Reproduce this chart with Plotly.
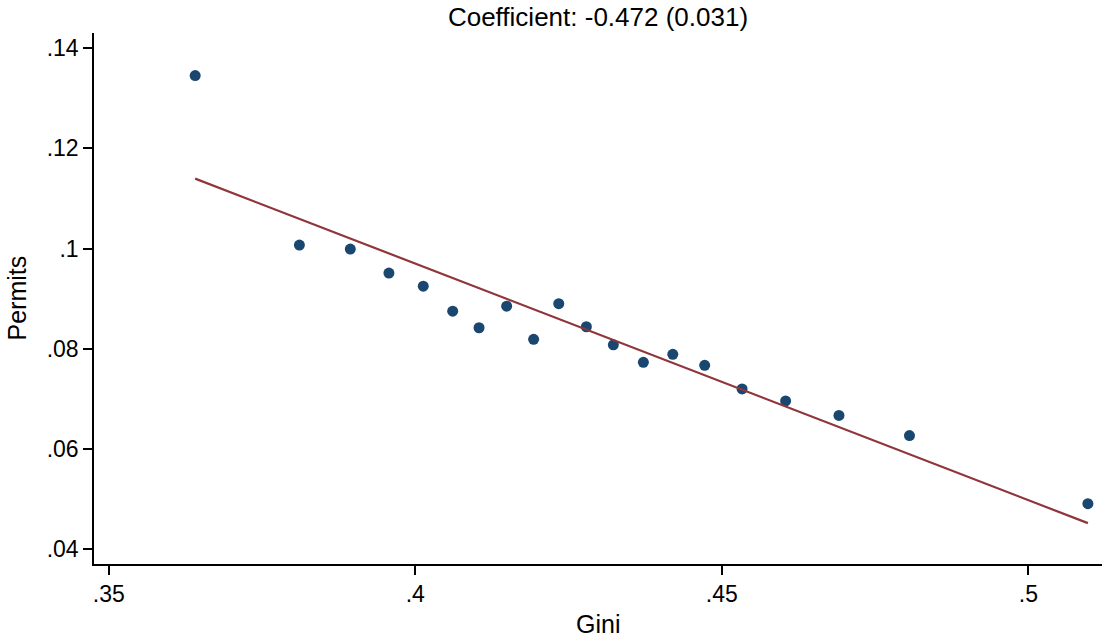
import plotly.graph_objects as go
import numpy as np

# Binned scatter data (Gini vs Permits)
gini = [0.3641, 0.3811, 0.3894, 0.3957, 0.4013, 0.4061, 0.4104, 0.4149, 0.4193, 0.4234,
        0.4279, 0.4323, 0.4372, 0.4420, 0.4472, 0.4533, 0.4604, 0.4691, 0.4806, 0.5097]
permits = [0.1345, 0.1007, 0.0999, 0.0951, 0.0925, 0.0875, 0.0842, 0.0885, 0.0819, 0.0890,
           0.0844, 0.0808, 0.0773, 0.0789, 0.0767, 0.0720, 0.0696, 0.0667, 0.0627, 0.0491]

# Fitted line parameters
slope = -0.472
intercept = 0.2858
std_err = 0.031

x_ticks = [0.35, 0.4, 0.45, 0.5]
x_tick_labels = [".35", ".4", ".45", ".5"]
y_ticks = [0.04, 0.06, 0.08, 0.1, 0.12, 0.14]
y_tick_labels = [".04", ".06", ".08", ".1", ".12", ".14"]

x_line = np.array([min(gini), max(gini)])
y_line = intercept + slope * x_line

FONT = "Liberation Sans, Arial, sans-serif"

fig = go.Figure()
fig.add_trace(go.Scatter(x=gini, y=permits, mode="markers",
                         marker=dict(size=11, color="#1a476f"), showlegend=False))
fig.add_trace(go.Scatter(x=x_line, y=y_line, mode="lines",
                         line=dict(color="#90353b", width=2.2), showlegend=False))

fig.update_layout(
    width=1102, height=638,
    margin=dict(l=94, r=0, t=33, b=74),
    paper_bgcolor="white", plot_bgcolor="white",
    font=dict(family=FONT, size=23, color="black"),
    title=dict(text=f"Coefficient: {slope:.3f} ({std_err:.3f})",
               x=0.5, xref="paper", xanchor="center",
               y=1 - 17 / 638, yref="container", yanchor="middle",
               font=dict(family=FONT, size=26, color="black")),
)
fig.update_xaxes(range=[0.3476, 0.512], tickvals=x_ticks, ticktext=x_tick_labels,
                 showgrid=False, zeroline=False, showline=True, linecolor="black",
                 linewidth=1.5, ticks="outside", ticklen=9, tickwidth=1.5,
                 tickcolor="black", tickfont=dict(size=23))
fig.update_yaxes(range=[0.03707, 0.143], tickvals=y_ticks, ticktext=y_tick_labels,
                 showgrid=False, zeroline=False, showline=True, linecolor="black",
                 linewidth=1.5, ticks="outside", ticklen=9, tickwidth=1.5,
                 tickcolor="black", tickfont=dict(size=23))

fig.add_annotation(text="Permits", xref="paper", yref="paper", x=(16 - 94) / 1008,
                   y=0.5, textangle=-90, showarrow=False, xanchor="center", yanchor="middle",
                   font=dict(family=FONT, size=25, color="black"))
fig.add_annotation(text="Gini", xref="paper", yref="paper", x=0.5,
                   y=-(624 - 564) / 531, showarrow=False, xanchor="center", yanchor="middle",
                   font=dict(family=FONT, size=25, color="black"))

fig.write_html("out.html")
